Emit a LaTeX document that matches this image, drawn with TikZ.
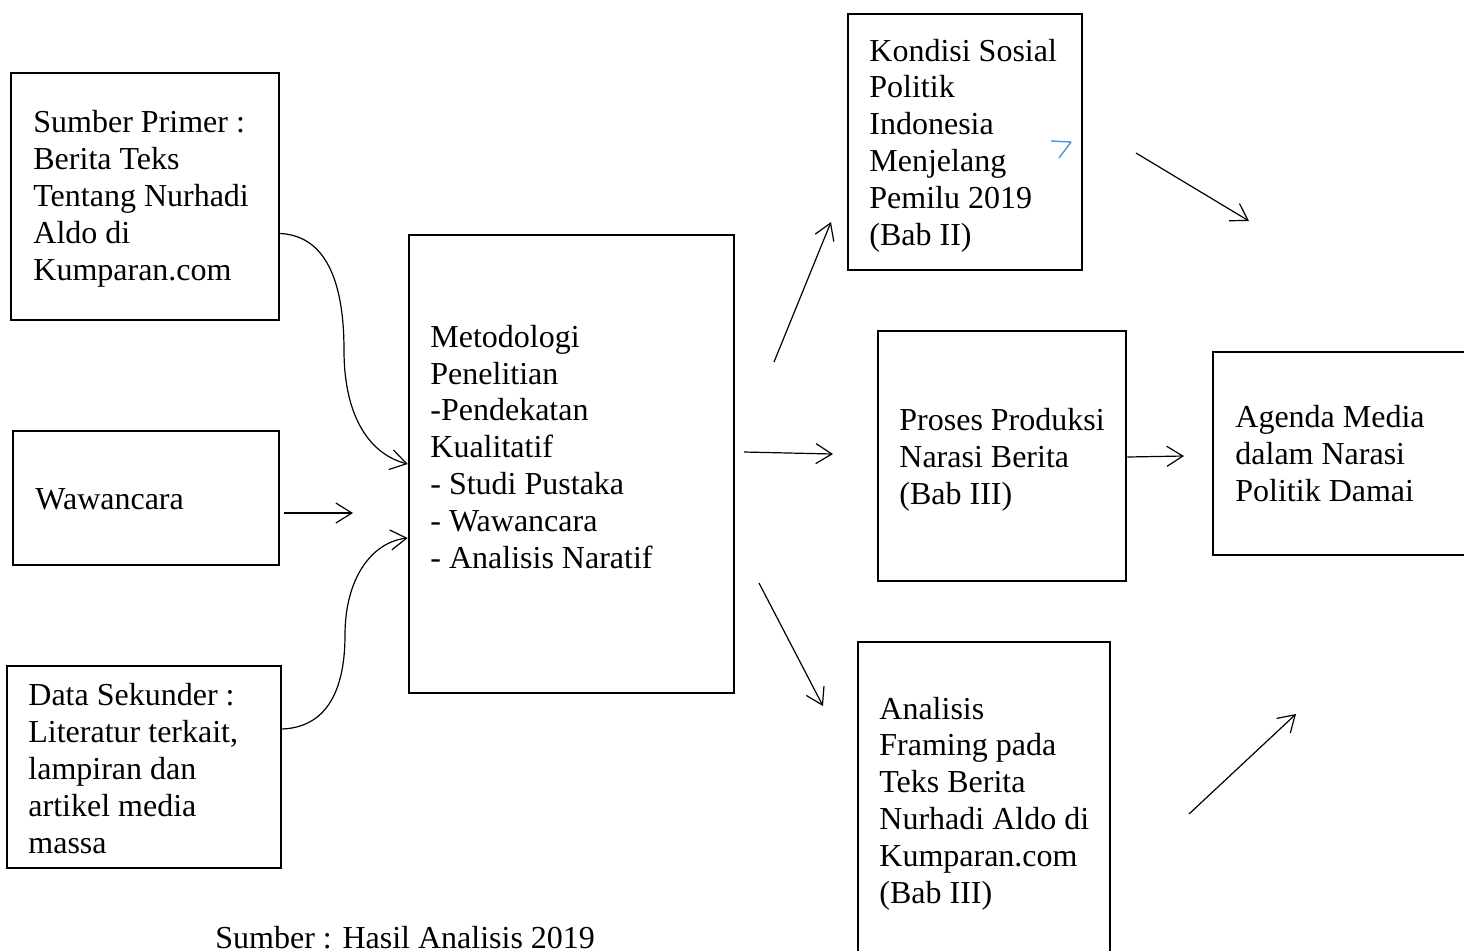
\documentclass[tikz,border=0pt]{standalone}
\usepackage{fontspec}
\setmainfont{Liberation Serif}
\usetikzlibrary{fit,calc,arrows.meta}
\definecolor{penblue}{RGB}{80,145,225}
\begin{document}
\begin{tikzpicture}[x=0.5pt,y=-0.5pt,
  box/.style={draw, line width=1.25pt, inner sep=0pt},
  txt/.style={anchor=base west, align=left, inner sep=0pt, font=\fontsize{16pt}{18.4pt}\selectfont},
  arr/.style={-{Straight Barb[length=8pt,width=10pt]}, line width=0.6pt}]
\useasboundingbox (0,0) rectangle (1464,950);
\clip (0,0) rectangle (1464,950);
% boxes
\node[box, fit={(11,73) (279,320)}] (b1) {};
\node[box, fit={(13,431) (279,565)}] (b2) {};
\node[box, fit={(7,666) (281,868)}] (b3) {};
\node[box, fit={(409,235) (734,693)}] (b4) {};
\node[box, fit={(848,14) (1082,270)}] (b5) {};
\node[box, fit={(878,331) (1126,581)}] (b6) {};
\node[box, fit={(1213,352) (1480,555)}] (b7) {};
\node[box, fit={(858,642) (1110,980)}] (b8) {};
% texts (anchored at the baseline of their last line)
\node[txt] (t1) at (33,280) {Sumber Primer :\\Berita Teks\\Tentang Nurhadi\\Aldo di\\Kumparan.com};
\node[txt] (t2) at (35,509) {Wawancara};
\node[txt] (t3) at (28,853) {Data Sekunder :\\Literatur terkait,\\lampiran dan\\artikel media\\massa};
\node[txt] (t4) at (430,568) {Metodologi\\Penelitian\\-Pendekatan\\Kualitatif\\- Studi Pustaka\\- Wawancara\\- Analisis Naratif};
\node[txt] (t5) at (869,245) {Kondisi Sosial\\Politik\\Indonesia\\Menjelang\\Pemilu 2019\\(Bab II)};
\node[txt] (t6) at (899,504) {Proses Produksi\\Narasi Berita\\(Bab III)};
\node[txt] (t7) at (1235,501) {Agenda Media\\dalam Narasi\\Politik Damai};
\node[txt] (t8) at (879,903) {Analisis\\Framing pada\\Teks Berita\\Nurhadi Aldo di\\Kumparan.com\\(Bab III)};
\node[txt] (cap) at (215,948) {Sumber : Hasil Analisis 2019};
% connector end points
\coordinate (s1) at ($(b1.east)+(0,37)$);
\coordinate (s3) at ($(b3.east)+(0,-38)$);
\coordinate (e3) at ($(b4.west)+(0,74)$);
\coordinate (s2) at ($(b2.east)+(4,15)$);
\coordinate (e2) at (353,513);
\coordinate (m5s) at (774,362);
\coordinate (m5e) at (831,222);
\coordinate (m6s) at (744,452);
\coordinate (m6e) at (833,454);
\coordinate (m8s) at (759,583);
\coordinate (m8e) at (823,706);
\coordinate (e7) at (1184,456);
\coordinate (f1s) at (1136,153);
\coordinate (f1e) at (1249,221);
\coordinate (f2s) at (1189,814);
\coordinate (f2e) at (1296,714);
% connectors
\draw[arr] (s1) .. controls (330,236) and (344,290) .. (344,350) .. controls (344,420) and (372,455) .. (b4.west);
\draw[arr] (s2) -- (e2);
\draw[arr] (s3) .. controls (330,727) and (345,685) .. (345,635) .. controls (345,578) and (372,542) .. (e3);
\draw[arr] (m5s) -- (m5e);
\draw[arr] (m6s) -- (m6e);
\draw[arr] (m8s) -- (m8e);
\draw[arr] (b6.east |- 0,457) -- (e7);
\draw[arr] (f1s) -- (f1e);
\draw[arr] (f2s) -- (f2e);
% pen mark
\draw[penblue, line width=0.7pt, line join=round] (1051,141) -- (1071,142) -- (1059,158);
\end{tikzpicture}
\end{document}
